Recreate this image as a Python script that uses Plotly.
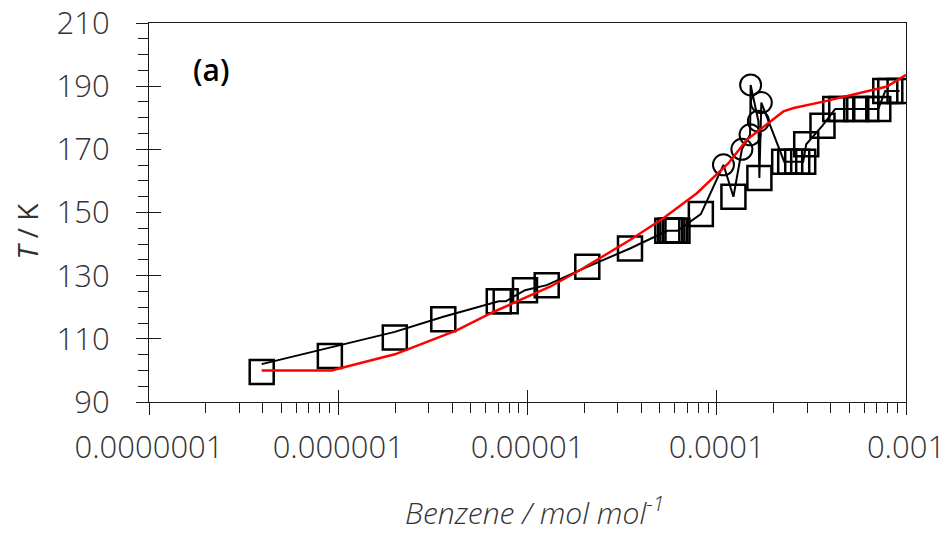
import plotly.graph_objects as go

# Benzene mixing ratio (mol/mol) and temperature (K)

# Square markers (measurement set 1)
sq_x = [3.94e-7, 9.03e-7, 1.99e-6, 3.59e-6, 7.05e-6, 7.67e-6, 9.7e-6, 1.263e-5,
        2.07e-5, 3.48e-5, 5.48e-5, 5.67e-5, 5.83e-5, 6.03e-5, 6.2e-5, 8.24e-5,
        1.225e-4, 1.68e-4, 2.272e-4, 2.444e-4, 2.662e-4, 2.863e-4, 2.97e-4,
        3.62e-4, 4.227e-4, 4.549e-4, 5.46e-4, 6.166e-4, 7.137e-4, 7.772e-4,
        8.26e-4, 9.25e-4]
sq_T = [99.5, 104.6, 110.4, 116.2, 121.9, 121.9, 125.4, 127.0,
        132.8, 138.6, 144.2, 144.2, 144.2, 144.2, 144.2, 149.5,
        155.0, 160.9, 166.1, 166.1, 166.1, 166.1, 171.6,
        177.5, 182.8, 182.8, 182.8, 182.8, 182.8, 188.5,
        188.5, 188.5]

# Circle markers (measurement set 2)
ci_x = [1.085e-4, 1.358e-4, 1.50e-4, 1.51e-4, 1.66e-4, 1.72e-4]
ci_T = [165.1, 170.0, 174.6, 190.4, 178.9, 184.8]

# Black connecting curve through both sets, ordered by mixing ratio
ln_x = [3.94e-7, 9.03e-7, 1.99e-6, 3.59e-6, 7.05e-6, 7.67e-6, 9.7e-6, 1.263e-5,
        2.07e-5, 3.48e-5, 5.48e-5, 5.67e-5, 5.83e-5, 6.03e-5, 6.2e-5, 8.24e-5,
        1.085e-4, 1.225e-4, 1.358e-4, 1.50e-4, 1.51e-4, 1.66e-4, 1.68e-4,
        1.72e-4, 2.272e-4, 2.444e-4, 2.662e-4, 2.863e-4, 2.97e-4, 3.62e-4,
        4.227e-4, 4.549e-4, 5.46e-4, 6.166e-4, 7.137e-4, 7.772e-4, 8.26e-4,
        9.25e-4]
ln_T = [102.0, 107.1, 112.2, 117.0, 121.9, 121.9, 125.4, 127.0,
        132.8, 138.6, 144.2, 144.2, 144.2, 144.2, 144.2, 149.5,
        165.1, 155.0, 170.0, 174.6, 190.4, 178.9, 160.9,
        184.8, 166.1, 166.1, 166.1, 166.1, 171.6, 177.5,
        182.8, 182.8, 182.8, 182.8, 182.8, 188.5, 188.5,
        188.5]

# Red saturation curve
red_x = [3.94e-7, 9.2e-7, 1.99e-6, 4.22e-6, 6.6e-6, 1.315e-5, 1.9e-5, 3.48e-5,
         5.22e-5, 7.85e-5, 1.153e-4, 1.44e-4, 2.25e-4, 2.55e-4, 3.66e-4,
         5.73e-4, 7.94e-4, 1.0e-3]
red_T = [100.0, 100.0, 105.1, 112.7, 118.5, 126.5, 131.8, 141.3,
         148.2, 156.1, 165.6, 173.0, 182.0, 183.1, 185.1,
         187.8, 189.9, 193.6]

x_ticks = [1e-7, 1e-6, 1e-5, 1e-4, 1e-3]
x_ticktext = ["0.0000001", "0.000001", "0.00001", "0.0001", "0.001"]
x_minor = [m * d for d in [1e-7, 1e-6, 1e-5, 1e-4] for m in range(2, 10)]
y_ticks = [90, 110, 130, 150, 170, 190, 210]

FONT = "Open Sans"
TXT = "#333333"
AX = "#1a1a1a"

fig = go.Figure()
fig.add_trace(go.Scatter(x=ln_x, y=ln_T, mode="lines",
                         line=dict(color="black", width=2), showlegend=False))
fig.add_trace(go.Scatter(x=sq_x, y=sq_T, mode="markers",
                         marker=dict(symbol="square-open", size=24, color="black",
                                     line=dict(color="black", width=2.5)),
                         showlegend=False))
fig.add_trace(go.Scatter(x=ci_x, y=ci_T, mode="markers",
                         marker=dict(symbol="circle-open", size=21, color="black",
                                     line=dict(color="black", width=2)),
                         showlegend=False))
fig.add_trace(go.Scatter(x=red_x, y=red_T, mode="lines",
                         line=dict(color="#ff0000", width=2.5), showlegend=False))
# invisible trace so the overlay axes (inner half of major ticks) are drawn
fig.add_trace(go.Scatter(x=[1e-6], y=[100], xaxis="x2", yaxis="y2", mode="markers",
                         marker=dict(opacity=0), showlegend=False, hoverinfo="skip"))

fig.update_layout(
    width=947, height=533,
    margin=dict(l=149, r=41, t=23, b=131),
    paper_bgcolor="white", plot_bgcolor="white",
    font=dict(family=FONT, color=TXT),
    xaxis=dict(type="log", range=[-7, -3], tickmode="array", automargin=False,
               tickvals=x_ticks, ticktext=x_ticktext,
               ticks="outside", ticklen=12, tickwidth=1.3, tickcolor=AX,
               minor=dict(tickmode="array", tickvals=x_minor, ticks="outside",
                          ticklen=10, tickwidth=1.3, tickcolor=AX, showgrid=False),
               showline=True, linecolor=AX, linewidth=1.3, mirror=True,
               showgrid=False, zeroline=False,
               tickfont=dict(size=31, color=TXT, family=FONT, weight=300),
               ticklabelstandoff=6),
    yaxis=dict(range=[90, 210], tickmode="array", tickvals=y_ticks, automargin=False,
               ticks="outside", ticklen=12, tickwidth=1.3, tickcolor=AX,
               minor=dict(dtick=5, ticks="outside", ticklen=10, tickwidth=1.3,
                          tickcolor=AX, showgrid=False),
               showline=True, linecolor=AX, linewidth=1.3, mirror=True,
               showgrid=False, zeroline=False,
               tickfont=dict(size=31, color=TXT, family=FONT, weight=300),
               ticklabelstandoff=20),
    xaxis2=dict(type="log", range=[-7, -3], overlaying="x", anchor="y2", side="bottom",
                tickmode="array", tickvals=x_ticks, ticks="inside", ticklen=12,
                tickwidth=1.3, tickcolor=AX, showticklabels=False, automargin=False,
                showline=False, showgrid=False, zeroline=False),
    yaxis2=dict(range=[90, 210], overlaying="y", anchor="x2", side="left",
                tickmode="array", tickvals=y_ticks, ticks="inside", ticklen=12,
                tickwidth=1.3, tickcolor=AX, showticklabels=False, automargin=False,
                showline=False, showgrid=False, zeroline=False),
    annotations=[
        dict(text="(a)", xref="paper", yref="paper", x=0.0816, y=0.877,
             showarrow=False, xanchor="center", yanchor="middle",
             font=dict(size=30, color="black", family=FONT, weight=600)),
        dict(text="<i>T</i> / K", xref="paper", yref="paper", x=-0.1605, y=0.451,
             showarrow=False, textangle=-90, xanchor="center", yanchor="middle",
             font=dict(size=28, color=TXT, family=FONT)),
        dict(text="<i>Benzene / mol mol<sup>-1</sup></i>", xref="paper", yref="paper",
             x=0.5098, y=-0.288, showarrow=False, xanchor="center", yanchor="middle",
             font=dict(size=30, color=TXT, family=FONT, weight=300)),
    ],
)

fig.write_html("out.html")
